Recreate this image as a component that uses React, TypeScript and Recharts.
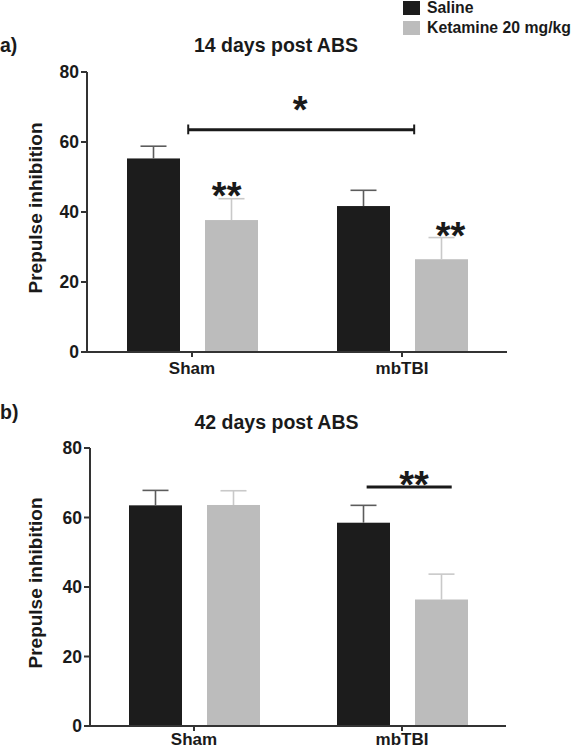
import React from 'react';
import { BarChart, Bar, XAxis, YAxis, Legend, ReferenceLine, ReferenceDot } from 'recharts';

const groups = ['Sham', 'mbTBI'];
const saline14 = [55.3, 41.7];
const saline14Sem = [3.5, 4.5];
const ketamine14 = [37.7, 26.5];
const ketamine14Sem = [6.1, 6.2];
const saline42 = [63.5, 58.5];
const saline42Sem = [4.3, 5.0];
const ketamine42 = [63.6, 36.4];
const ketamine42Sem = [4.1, 7.3];
const yTicks = [0, 20, 40, 60, 80];

const FONT = "'Liberation Sans', Arial, sans-serif";
const INK = '#1a1a1a';
const AXIS = '#333333';
const BLACK = '#1c1c1c';
const GREY = '#bcbcbc';

// pos = group index on a 0..2 helper axis, used only to place the significance marks
const buildRows = (sal: number[], salSem: number[], ket: number[], ketSem: number[]) =>
  groups.map((g, i) => ({
    group: g,
    pos: i + 0.5,
    saline: sal[i],
    salineSem: salSem[i],
    ketamine: ket[i],
    ketamineSem: ketSem[i],
  }));

const data14 = buildRows(saline14, saline14Sem, ketamine14, ketamine14Sem);
const data42 = buildRows(saline42, saline42Sem, ketamine42, ketamine42Sem);

// bar + upper SEM whisker, whisker length taken from the bar's own px/unit
const makeShape = (key: string, semKey: string, errColor: string) => (props: any) => {
  const { x, y, width, height, payload, fill } = props;
  const v = payload[key];
  const pxPerUnit = v ? height / v : 0;
  const top = y - payload[semKey] * pxPerUnit;
  const cx = x + width / 2;
  return (
    <g>
      <rect x={x} y={y} width={width} height={height} fill={fill} />
      <line x1={cx} y1={y} x2={cx} y2={top} stroke={errColor} strokeWidth={1.6} />
      <line x1={cx - 13} y1={top} x2={cx + 13} y2={top} stroke={errColor} strokeWidth={1.6} />
    </g>
  );
};

const stars = (label: string) => (props: any) => (
  <text
    x={props.cx}
    y={props.cy + 21}
    textAnchor="middle"
    fontSize={38}
    fontWeight="bold"
    fontFamily={FONT}
    fill={INK}
  >
    {label}
  </text>
);

const yLabel = (props: any) => {
  const vb = props.viewBox || {};
  const cy = vb.y + vb.height / 2 - 4;
  return (
    <text
      x={41.6}
      y={cy}
      transform={`rotate(-90, 41.6, ${cy})`}
      textAnchor="middle"
      fontSize={19}
      fontWeight="bold"
      fontFamily={FONT}
      fill={INK}
    >
      Prepulse inhibition
    </text>
  );
};

const renderLegend = (props: any) => (
  <div style={{ fontFamily: FONT }}>
    {(props.payload || []).map((entry: any) => (
      <div key={entry.value} style={{ display: 'flex', alignItems: 'center', height: 20 }}>
        <span style={{ display: 'inline-block', width: 17, height: 14, background: entry.color, marginRight: 7 }} />
        <span style={{ fontSize: 15.8, fontWeight: 'bold', color: INK, whiteSpace: 'nowrap' }}>{entry.value}</span>
      </div>
    ))}
  </div>
);

const yTickStyle = { fontSize: 17.5, fontWeight: 'bold', fill: INK, fontFamily: FONT };
const xTickStyle = { fontSize: 17, fontWeight: 'bold', fill: INK, fontFamily: FONT };

const Panel = ({
  data,
  height,
  marginTop,
  axisWidth,
  xHeight,
  xTickMargin,
  right,
  withLegend,
  children,
}: any) => (
  <BarChart
    width={571}
    height={height}
    data={data}
    margin={{ top: marginTop, right, bottom: 0, left: 0 }}
    barGap={25}
  >
    <XAxis
      dataKey="group"
      height={xHeight}
      tickSize={5}
      tickMargin={xTickMargin}
      axisLine={{ stroke: AXIS, strokeWidth: 2 }}
      tickLine={{ stroke: AXIS, strokeWidth: 2 }}
      tick={xTickStyle}
    />
    <XAxis xAxisId="num" dataKey="pos" type="number" domain={[0, 2]} allowDataOverflow hide />
    <YAxis
      width={axisWidth}
      domain={[0, 80]}
      ticks={yTicks}
      interval={0}
      tickSize={6}
      tickMargin={2}
      axisLine={{ stroke: AXIS, strokeWidth: 2 }}
      tickLine={{ stroke: AXIS, strokeWidth: 2 }}
      tick={yTickStyle}
      label={yLabel}
    />
    {withLegend && (
      <Legend
        content={renderLegend}
        layout="vertical"
        align="center"
        verticalAlign="middle"
        itemSorter={(item: any) => (item.dataKey === 'saline' ? 0 : 1)}
        wrapperStyle={{ position: 'absolute', top: -2, left: 403, width: 'auto' }}
      />
    )}
    <Bar
      dataKey="saline"
      name="Saline"
      fill={BLACK}
      barSize={53}
      isAnimationActive={false}
      shape={makeShape('saline', 'salineSem', '#5c5c5c')}
    />
    <Bar
      dataKey="ketamine"
      name="Ketamine 20 mg/kg"
      fill={GREY}
      barSize={53}
      isAnimationActive={false}
      shape={makeShape('ketamine', 'ketamineSem', '#c9c9c9')}
    />
    {children}
  </BarChart>
);

const heading: React.CSSProperties = {
  position: 'absolute',
  fontSize: 19.5,
  lineHeight: '20px',
  fontWeight: 'bold',
  color: INK,
  fontFamily: FONT,
  whiteSpace: 'nowrap',
};

export default function App() {
  return (
    <div
      style={{
        position: 'absolute',
        left: 0,
        top: 0,
        width: 571,
        height: 750,
        background: '#fff',
        overflow: 'hidden',
        fontFamily: FONT,
      }}
    >
      <div style={{ position: 'absolute', left: 0, top: 0 }}>
        <Panel
          data={data14}
          height={380}
          marginTop={72}
          axisWidth={87}
          xHeight={28}
          xTickMargin={5}
          right={64}
          withLegend
        >
          <ReferenceLine
            xAxisId="num"
            segment={[{ x: 0.482, y: 63.5 }, { x: 1.558, y: 63.5 }]}
            stroke={INK}
            strokeWidth={3}
          />
          <ReferenceLine
            xAxisId="num"
            segment={[{ x: 0.482, y: 62.2 }, { x: 0.482, y: 65.0 }]}
            stroke={INK}
            strokeWidth={2}
          />
          <ReferenceLine
            xAxisId="num"
            segment={[{ x: 1.558, y: 62.2 }, { x: 1.558, y: 65.0 }]}
            stroke={INK}
            strokeWidth={2}
          />
          <ReferenceDot xAxisId="num" x={1.015} y={71.4} r={0} shape={stars('*')} />
          <ReferenceDot xAxisId="num" x={0.665} y={46.8} r={0} shape={stars('**')} />
          <ReferenceDot xAxisId="num" x={1.731} y={35.4} r={0} shape={stars('**')} />
        </Panel>
      </div>
      <div style={{ position: 'absolute', left: 0, top: 380 }}>
        <Panel
          data={data42}
          height={370}
          marginTop={68}
          axisWidth={90}
          xHeight={24}
          xTickMargin={2}
          right={65}
        >
          <ReferenceLine
            xAxisId="num"
            segment={[{ x: 1.33, y: 68.8 }, { x: 1.739, y: 68.8 }]}
            stroke={INK}
            strokeWidth={3}
          />
          <ReferenceDot xAxisId="num" x={1.558} y={71.7} r={0} shape={stars('**')} />
        </Panel>
      </div>
      <div style={{ ...heading, left: 0, top: 35 }}>a)</div>
      <div style={{ ...heading, left: 0, width: 552, textAlign: 'center', top: 35 }}>14 days post ABS</div>
      <div style={{ ...heading, left: 0, top: 402 }}>b)</div>
      <div style={{ ...heading, left: 0, width: 553, textAlign: 'center', top: 412 }}>42 days post ABS</div>
    </div>
  );
}
